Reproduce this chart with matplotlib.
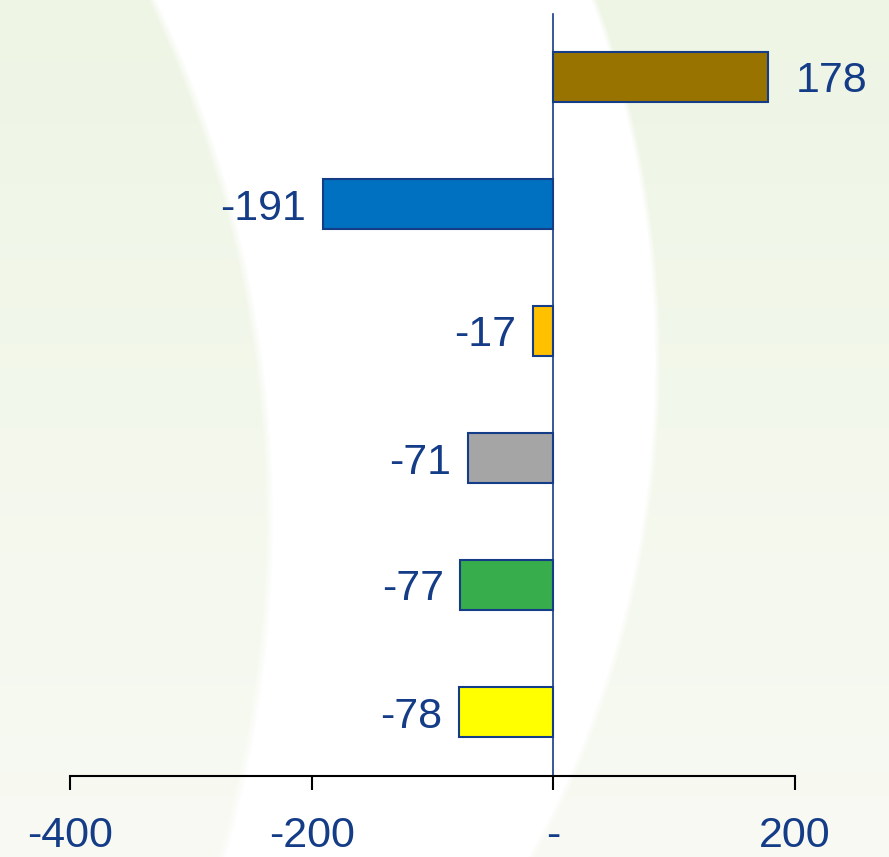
import numpy as np
import matplotlib
matplotlib.use('Agg')
import matplotlib.pyplot as plt

plt.rcParams['font.family'] = ['Liberation Sans', 'DejaVu Sans']

# Dados do gráfico
values = [178, -191, -17, -71, -77, -78]
bar_colors = ['#987300', '#0070C0', '#FFC000', '#A5A5A5', '#37AD4C', '#FFFF00']
tick_values = [-400, -200, 0, 200]
tick_labels = ['-400', '-200', '-', '200']

navy = '#143C87'

W, H = 889, 857
fig = plt.figure(figsize=(W / 100, H / 100), dpi=100)

# Fundo: verde claro com faixa branca curva
yy, xx = np.mgrid[0:H, 0:W].astype(float)
top = np.array([238, 245, 229]) / 255
bot = np.array([248, 250, 243]) / 255
t = (yy / H)[..., None]
green = top * (1 - t) + bot * t
r_white = ((xx + 40) / 700) ** 2 + ((yy - 360) / 869) ** 2
r_left = ((xx + 720) / 985) ** 2 + ((yy - 520) / 1097) ** 2
w_in = np.clip((1 - r_white) * 60, 0, 1)
w_out = np.clip((r_left - 1) * 60, 0, 1)
wmask = (w_in * w_out)[..., None]
bg = green * (1 - wmask) + np.ones(3) * wmask

ax_bg = fig.add_axes([0, 0, 1, 1], zorder=-1)
ax_bg.imshow(bg, extent=[0, W, H, 0], aspect='auto')
ax_bg.axis('off')

# Gráfico de barras
ax = fig.add_axes([70 / W, 1 - 775.5 / H, 725 / W, 762 / H])
ax.patch.set_alpha(0)
pos = np.arange(len(values))
ax.barh(pos, values, height=0.4, color=bar_colors, edgecolor=navy, linewidth=1.5, zorder=3)

ax.set_xlim(-400, 200)
ax.set_ylim(len(values) - 0.5, -0.5)

for p, v in zip(pos, values):
    if v >= 0:
        ax.annotate(f'{v}', (v, p), xytext=(20, 0), textcoords='offset points',
                    ha='left', va='center_baseline', fontsize=31, color=navy)
    else:
        ax.annotate(f'{v}', (v, p), xytext=(-12, 0), textcoords='offset points',
                    ha='right', va='center_baseline', fontsize=31, color=navy)

ax.spines['top'].set_visible(False)
ax.spines['right'].set_visible(False)
ax.spines['left'].set_position(('data', 0))
ax.spines['left'].set_color(navy)
ax.spines['left'].set_linewidth(1.2)
ax.spines['bottom'].set_color('black')
ax.spines['bottom'].set_linewidth(1.5)
ax.set_yticks([])
ax.set_xticks(tick_values)
ax.set_xticklabels(tick_labels)
ax.tick_params(axis='x', direction='out', length=10, width=1.5, color='black',
               pad=19, labelsize=31, labelcolor=navy)

plt.savefig('out.png', dpi=100)
plt.close()
